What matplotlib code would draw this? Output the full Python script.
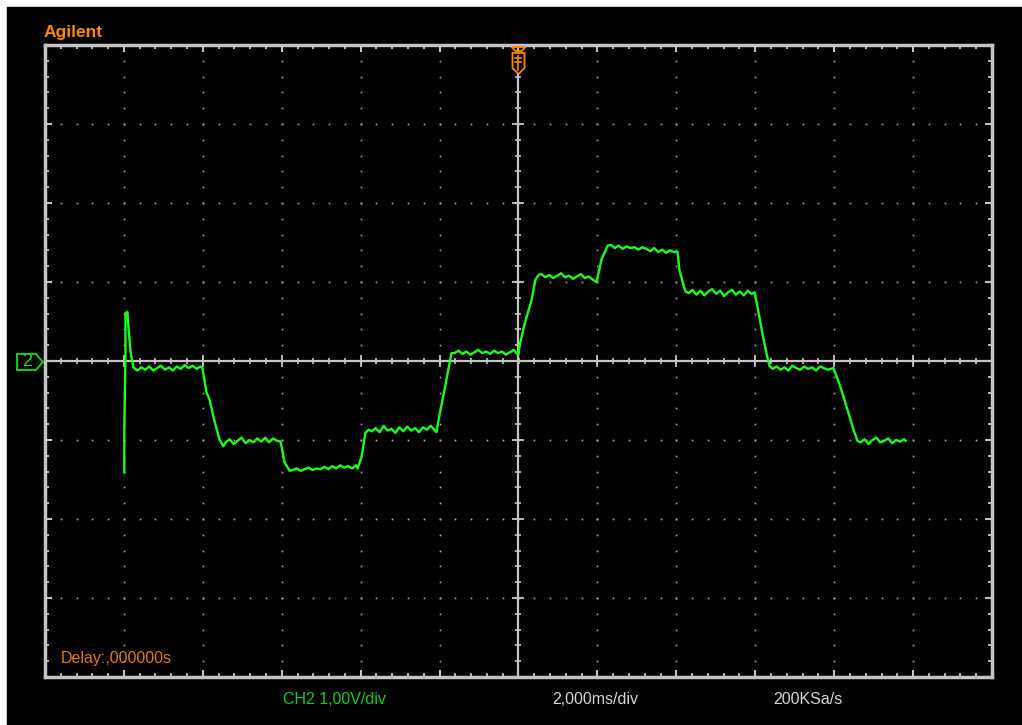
import matplotlib
matplotlib.use("Agg")
import matplotlib.pyplot as plt
import numpy as np
from matplotlib.patches import Rectangle, Polygon

# scope settings: 2 ms/div over 12 divisions, 1 V/div over 8 divisions
MS_PER_DIV = 2.0
V_PER_DIV = 1.0
H_DIVS = 12
V_DIVS = 8

# captured trace, time in ms and voltage in V
trace_ms = [
    # start-up spike
    -9.99, -9.99, -9.96, -9.96, -9.96, -9.91, -9.88, -9.83, -9.76,
    # step at about -0.1 V
    -9.66, -9.56, -9.46, -9.36, -9.26, -9.16, -9.06, -8.96, -8.86, -8.76,
    -8.66, -8.56, -8.46, -8.36, -8.26, -8.16, -8.06, -8.01,
    -7.91, -7.83, -7.71, -7.58, -7.48,
    # step at about -1.0 V
    -7.42, -7.32, -7.22, -7.12, -7.02, -6.92, -6.82, -6.72, -6.62, -6.52,
    -6.42, -6.32, -6.22, -6.12, -6.03,
    -5.93, -5.80,
    # step at about -1.35 V
    -5.72, -5.62, -5.52, -5.42, -5.32, -5.22, -5.12, -5.02, -4.92, -4.82,
    -4.72, -4.62, -4.52, -4.42, -4.32, -4.22, -4.12, -4.08,
    -3.98, -3.88, -3.80,
    # step at about -0.87 V
    -3.72, -3.62, -3.52, -3.42, -3.32, -3.22, -3.12, -3.02, -2.92, -2.82,
    -2.72, -2.62, -2.52, -2.42, -2.32, -2.22, -2.12, -2.08,
    -2.00, -1.85, -1.70,
    # step at about +0.11 V
    -1.62, -1.52, -1.42, -1.32, -1.22, -1.12, -1.02, -0.92, -0.82, -0.72,
    -0.62, -0.52, -0.42, -0.32, -0.22, -0.12, -0.05, 0.00,
    0.03, 0.15, 0.33, 0.43, 0.51,
    # step at about +1.07 V
    0.58, 0.68, 0.78, 0.88, 0.98, 1.08, 1.18, 1.28, 1.38, 1.48,
    1.58, 1.68, 1.78, 1.88, 1.98,
    2.10, 2.18, 2.26,
    # step at about +1.43 V
    2.34, 2.44, 2.54, 2.64, 2.74, 2.84, 2.94, 3.04, 3.14, 3.24,
    3.34, 3.44, 3.54, 3.64, 3.74, 3.84, 3.94, 4.03,
    4.08, 4.16, 4.23,
    # step at about +0.88 V
    4.31, 4.41, 4.51, 4.61, 4.71, 4.81, 4.91, 5.01, 5.11, 5.21,
    5.31, 5.41, 5.51, 5.61, 5.71, 5.81, 5.91, 5.98,
    6.06, 6.18, 6.31, 6.36,
    # step at about -0.09 V
    6.44, 6.54, 6.64, 6.74, 6.84, 6.94, 7.04, 7.14, 7.24, 7.34,
    7.44, 7.54, 7.64, 7.74, 7.84, 7.98,
    8.14, 8.34, 8.49, 8.59,
    # step at about -1.01 V
    8.67, 8.77, 8.87, 8.97, 9.07, 9.17, 9.27, 9.37, 9.47, 9.57,
    9.67, 9.77, 9.81,
]
trace_v = [
    -1.41, -0.87, 0.08, 0.46, 0.61, 0.62, 0.39, 0.11, -0.08,
    -0.12, -0.08, -0.11, -0.07, -0.12, -0.09, -0.06, -0.11, -0.08, -0.12,
    -0.07, -0.10, -0.05, -0.09, -0.06, -0.10, -0.07, -0.09,
    -0.39, -0.49, -0.75, -0.99, -1.08,
    -1.03, -0.99, -1.05, -1.01, -0.97, -1.04, -1.00, -1.03, -0.98, -1.02,
    -0.97, -1.03, -0.98, -1.01, -1.02,
    -1.28, -1.39,
    -1.38, -1.36, -1.39, -1.37, -1.35, -1.38, -1.36, -1.37, -1.34, -1.37,
    -1.33, -1.36, -1.32, -1.35, -1.33, -1.36, -1.32, -1.36,
    -1.22, -0.91, -0.87,
    -0.89, -0.85, -0.90, -0.82, -0.88, -0.86, -0.91, -0.84, -0.89, -0.83,
    -0.88, -0.85, -0.90, -0.84, -0.87, -0.82, -0.88, -0.90,
    -0.68, -0.30, 0.10,
    0.10, 0.13, 0.09, 0.12, 0.08, 0.11, 0.14, 0.10, 0.12, 0.09,
    0.13, 0.10, 0.12, 0.08, 0.11, 0.14, 0.10, 0.08,
    0.20, 0.46, 0.77, 1.03, 1.09,
    1.10, 1.06, 1.09, 1.05, 1.08, 1.11, 1.06, 1.08, 1.04, 1.07,
    1.10, 1.05, 1.07, 1.03, 1.00,
    1.28, 1.37, 1.46,
    1.47, 1.43, 1.46, 1.42, 1.45, 1.43, 1.44, 1.41, 1.44, 1.42,
    1.39, 1.43, 1.38, 1.41, 1.37, 1.40, 1.38, 1.38,
    1.15, 1.00, 0.88,
    0.86, 0.90, 0.84, 0.89, 0.83, 0.88, 0.91, 0.85, 0.89, 0.82,
    0.87, 0.90, 0.84, 0.88, 0.83, 0.89, 0.85, 0.87,
    0.68, 0.35, 0.04, -0.06,
    -0.10, -0.07, -0.11, -0.08, -0.12, -0.06, -0.09, -0.11, -0.07, -0.10,
    -0.08, -0.12, -0.07, -0.09, -0.11, -0.09,
    -0.30, -0.62, -0.87, -1.01,
    -1.03, -0.99, -1.05, -1.00, -0.97, -1.03, -1.01, -0.98, -1.04, -1.00,
    -1.02, -0.99, -1.01,
]

brand = "Agilent"
delay_text = "Delay:,000000s"
channel_text = "CH2 1,00V/div"
timebase_text = "2,000ms/div"
rate_text = "200KSa/s"

W, H = 1022, 725
FRAME = "#c4c4c4"
DOTS = "#a8a8a8"
TRACE = "#1cff1c"
ORANGE = "#ff8a00"
FONT = "Liberation Sans"

fig = plt.figure(figsize=(W / 100, H / 100), dpi=100, facecolor="white")
fig.add_artist(Rectangle((7 / W, 0), 1, 1 - 7 / H, transform=fig.transFigure,
                         color="black", zorder=0))

# screen graticule area in pixels: x 45..992, y 45..677
ax = fig.add_axes([45 / W, (H - 677) / H, 947 / W, 632 / H])
ax.set_facecolor("black")
xmax = H_DIVS / 2 * MS_PER_DIV
ymax = V_DIVS / 2 * V_PER_DIV
ax.set_xlim(-xmax, xmax)
ax.set_ylim(-ymax, ymax)

xmaj = np.arange(-xmax, xmax + 0.01, MS_PER_DIV)
ymaj = np.arange(-ymax, ymax + 0.01, V_PER_DIV)
xmin = np.arange(-xmax, xmax + 0.01, MS_PER_DIV / 5)
ymin = np.arange(-ymax, ymax + 0.01, V_PER_DIV / 5)

ax.set_xticks(xmaj)
ax.set_yticks(ymaj)
ax.set_xticks(xmin, minor=True)
ax.set_yticks(ymin, minor=True)
ax.tick_params(which="both", direction="in", top=True, right=True,
               labelbottom=False, labelleft=False, color=FRAME)
ax.tick_params(which="major", length=5, width=1.5)
ax.tick_params(which="minor", length=3, width=1.3)
for s in ax.spines.values():
    s.set_color(FRAME)
    s.set_linewidth(2.5)

# dotted graticule lines
for x in xmaj[1:-1]:
    if x != 0:
        ax.plot(np.full_like(ymin, x), ymin, ls="none", marker="s",
                ms=1.2, mew=0, color=DOTS, zorder=1)
for y in ymaj[1:-1]:
    if y != 0:
        ax.plot(xmin, np.full_like(xmin, y), ls="none", marker="s",
                ms=1.2, mew=0, color=DOTS, zorder=1)

# centre axes with cross ticks
ax.axhline(0, color=FRAME, lw=1.6, zorder=2)
ax.axvline(0, color=FRAME, lw=1.6, zorder=2)
ax.plot(xmin, np.zeros_like(xmin), ls="none", marker="|", ms=5, mew=1.2, color=FRAME, zorder=2)
ax.plot(xmaj, np.zeros_like(xmaj), ls="none", marker="|", ms=9, mew=1.3, color=FRAME, zorder=2)
ax.plot(np.zeros_like(ymin), ymin, ls="none", marker="_", ms=5, mew=1.2, color=FRAME, zorder=2)
ax.plot(np.zeros_like(ymaj), ymaj, ls="none", marker="_", ms=9, mew=1.3, color=FRAME, zorder=2)

ax.plot(trace_ms, trace_v, color=TRACE, lw=1.7, zorder=5)

# marker sizes are given in screen pixels
px_x = 2 * xmax / 947
px_y = 2 * ymax / 632


def to_data(pts, x0, y0):
    return [(x0 + dx * px_x, y0 - dy * px_y) for dx, dy in pts]


# trigger marker at the top of the centre line
trig = dict(fill=False, ec=ORANGE, lw=1.3, clip_on=False, zorder=6)
ax.add_patch(Polygon(to_data([(-7, 2), (7, 2), (3, 6), (-3, 6)], 0, ymax), closed=True, **trig))
ax.add_patch(Polygon(to_data([(-6, 8), (6, 8), (6, 23), (0, 29), (-6, 23)], 0, ymax),
                     closed=True, fc="black", ec=ORANGE, lw=1.3, clip_on=False, zorder=6))
for seg in ([(-3, 13), (3, 13)], [(-3, 17), (3, 17)], [(0, 11), (0, 25)]):
    xs, ys = zip(*to_data(seg, 0, ymax))
    ax.plot(xs, ys, color=ORANGE, lw=1.2, clip_on=False, zorder=7)

# channel 2 ground reference marker on the left edge
gnd = to_data([(-28, -7), (-9, -7), (-2, 1), (-9, 9), (-28, 9)], -xmax, 0)
ax.add_patch(Polygon(gnd, closed=True, fill=False, ec="#10e010", lw=1.3, clip_on=False))
fig.text(27 / W, 1 - 362 / H, "2", color="#10e010", fontsize=13, family=FONT,
         ha="center", va="center")

fig.text(44 / W, 1 - 33 / H, brand, color=ORANGE, fontsize=12.5, weight="bold",
         family=FONT, ha="left", va="center")
fig.text(61 / W, 1 - 659 / H, delay_text, color="#e07a10", fontsize=11.5,
         family=FONT, ha="left", va="center")
fig.text(283 / W, 1 - 700 / H, channel_text, color="#10d010", fontsize=11.5,
         family=FONT, ha="left", va="center")
fig.text(552 / W, 1 - 700 / H, timebase_text, color="#d4d4d4", fontsize=11.5,
         family=FONT, ha="left", va="center")
fig.text(773 / W, 1 - 700 / H, rate_text, color="#d4d4d4", fontsize=11.5,
         family=FONT, ha="left", va="center")

fig.savefig("out.png", dpi=100, facecolor=fig.get_facecolor())
